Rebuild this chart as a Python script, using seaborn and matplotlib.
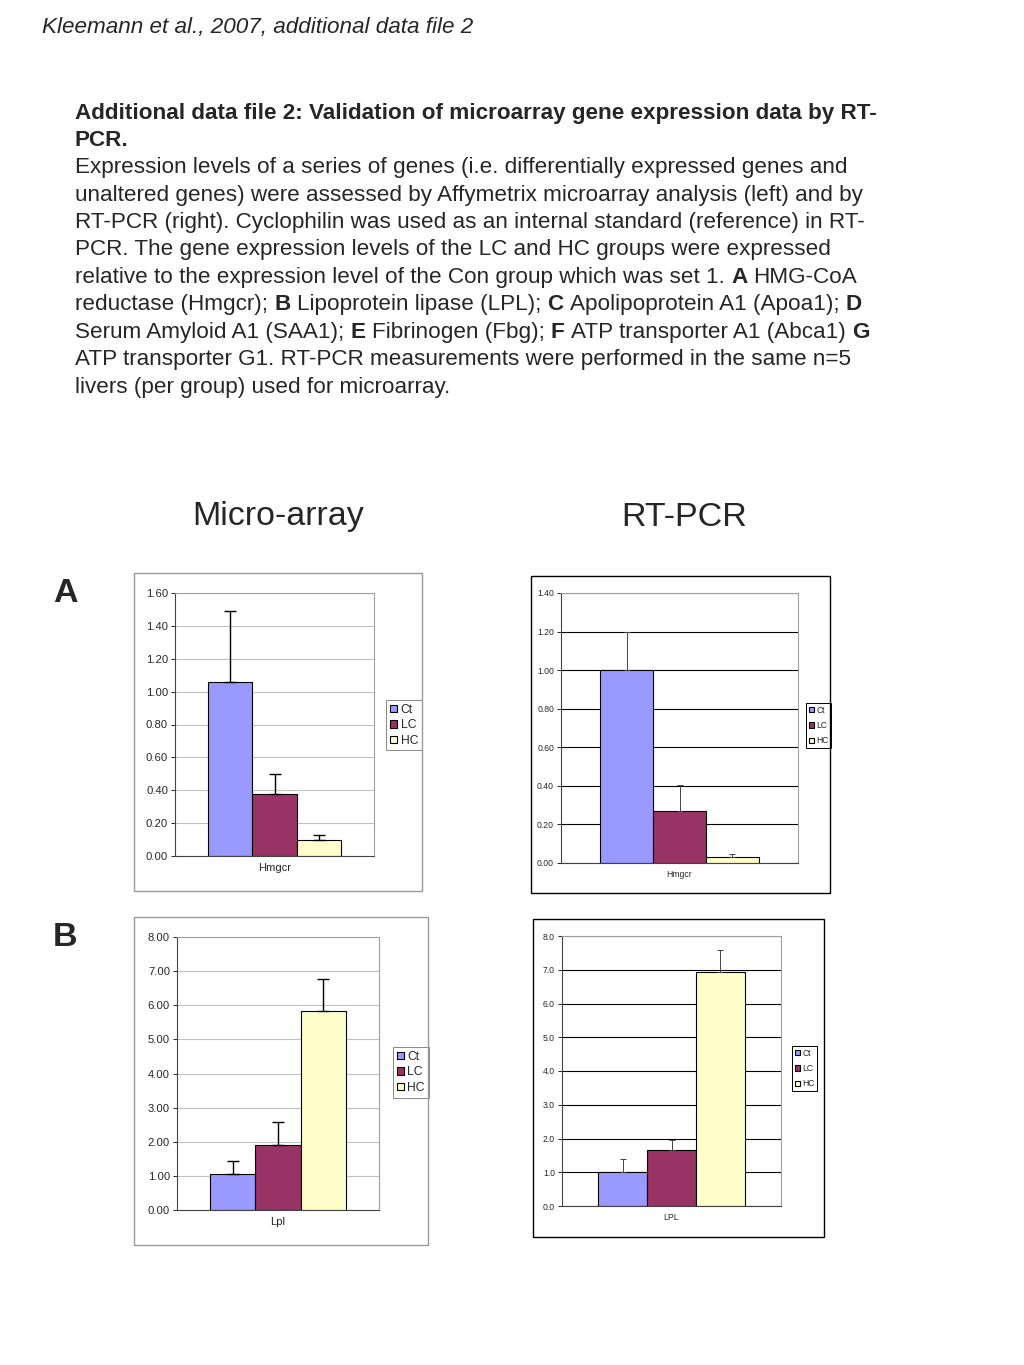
import numpy as np
import pandas as pd
import seaborn as sns
import matplotlib.pyplot as plt
from matplotlib.patches import Rectangle
from matplotlib.ticker import FormatStrFormatter

sns.set_style("white")
plt.rcParams['font.family'] = ['Liberation Sans', 'DejaVu Sans']

W, H = 1024, 1365

# data
groups = ["Ct", "LC", "HC"]
colors = ["#9999FF", "#993366", "#FFFFCC"]

# A: Hmgcr
hmgcr_array = [1.06, 0.38, 0.10]
hmgcr_array_sd = [0.43, 0.12, 0.025]
hmgcr_pcr = [1.00, 0.27, 0.033]
hmgcr_pcr_sd = [0.20, 0.135, 0.012]

# B: Lpl
lpl_array = [1.05, 1.90, 5.82]
lpl_array_sd = [0.40, 0.68, 0.95]
lpl_pcr = [1.00, 1.65, 6.93]
lpl_pcr_sd = [0.40, 0.32, 0.67]


def fig_rect(x0, y0, x1, y1):
    """pixel box (top-left origin) -> figure fraction rect"""
    return [x0 / W, 1 - y1 / H, (x1 - x0) / W, (y1 - y0) / H]


fig = plt.figure(figsize=(W / 100, H / 100), dpi=100)
renderer = fig.canvas.get_renderer()

# header + caption
fig.text(42 / W, 1 - 28 / H, "Kleemann et al., 2007, additional data file 2",
         fontsize=16.2, style='italic', va='center')

lines = [
    [("Additional data file 2: Validation of microarray gene expression data by RT-", True)],
    [("PCR.", True)],
    [("Expression levels of a series of genes (i.e. differentially expressed genes and", False)],
    [("unaltered genes) were assessed by Affymetrix microarray analysis (left) and by", False)],
    [("RT-PCR (right). Cyclophilin was used as an internal standard (reference) in RT-", False)],
    [("PCR. The gene expression levels of the LC and HC groups were expressed", False)],
    [("relative to the expression level of the Con group which was set 1.", False), ("A", True),
     ("HMG-CoA", False)],
    [("reductase (Hmgcr);", False), ("B", True), ("Lipoprotein lipase (LPL);", False), ("C", True),
     ("Apolipoprotein A1 (Apoa1);", False), ("D", True)],
    [("Serum Amyloid A1 (SAA1);", False), ("E", True), ("Fibrinogen (Fbg);", False), ("F", True),
     ("ATP transporter A1 (Abca1)", False), ("G", True)],
    [("ATP transporter G1. RT-PCR measurements were performed in the same n=5", False)],
    [("livers (per group) used for microarray.", False)],
]

cap_size = 16.2
t1 = fig.text(0, 0, "a a", fontsize=cap_size)
t2 = fig.text(0, 0, "aa", fontsize=cap_size)
space_w = t1.get_window_extent(renderer).width - t2.get_window_extent(renderer).width
t1.remove()
t2.remove()

for i, runs in enumerate(lines):
    y = 113 + i * 27.4
    x = 75
    for txt, bold in runs:
        t = fig.text(x / W, 1 - y / H, txt, fontsize=cap_size,
                     fontweight='bold' if bold else 'normal', va='center')
        x += t.get_window_extent(renderer).width + space_w

fig.text(278 / W, 1 - 517 / H, "Micro-array", fontsize=24.5, ha='center', va='center')
fig.text(684 / W, 1 - 517 / H, "RT-PCR", fontsize=24.5, ha='center', va='center')
fig.text(65 / W, 1 - 594 / H, "A", fontsize=24.5, fontweight='bold', ha='center', va='center')
fig.text(65 / W, 1 - 937 / H, "B", fontsize=24.5, fontweight='bold', ha='center', va='center')


def panel(box, plot, legend_xy, gene, vals, sds, ymax, step, fmt, small):
    fig.add_artist(Rectangle((box[0] / W, 1 - box[3] / H), (box[2] - box[0]) / W,
                             (box[3] - box[1]) / H, transform=fig.transFigure, fill=False,
                             edgecolor='black' if small else '#9a9a9a', lw=1.0))
    ax = fig.add_axes(fig_rect(*plot))
    df = pd.DataFrame({"gene": [gene] * 3, "group": groups, "value": vals})
    sns.barplot(data=df, x="gene", y="value", hue="group", hue_order=groups,
                palette=colors, saturation=1, width=0.67, edgecolor='black', linewidth=0.8,
                errorbar=None, ax=ax)
    for cont, sd in zip(ax.containers, sds):
        for bar in cont:
            xc = bar.get_x() + bar.get_width() / 2
            ax.errorbar(xc, bar.get_height(), yerr=[[0], [sd]], fmt='none',
                        ecolor='black' if not small else '#444444',
                        elinewidth=1.0 if not small else 0.7,
                        capsize=4 if not small else 2, capthick=1.0 if not small else 0.7)
    ax.set_xlim(-0.5, 0.5)
    ax.set_ylim(0, ymax)
    ax.set_yticks(np.arange(0, ymax + step / 2, step))
    ax.yaxis.set_major_formatter(FormatStrFormatter(fmt))
    ax.set_xlabel("")
    ax.set_ylabel("")
    ts = 6.2 if small else 8.1
    ax.tick_params(axis='y', labelsize=ts, length=3, width=0.7, direction='out', left=True, pad=2)
    ax.tick_params(axis='x', labelsize=ts, length=0, pad=5)
    ax.yaxis.grid(True, color='black' if small else '#c0c0c0', lw=0.8)
    ax.set_axisbelow(True)
    for side, sp in ax.spines.items():
        sp.set_linewidth(0.8)
        if side in ("left", "bottom"):
            sp.set_color('#444444')
        else:
            sp.set_color('#a0a0a0')
    handles, labels = ax.get_legend_handles_labels()
    ax.legend(handles, labels, loc='upper left',
              bbox_to_anchor=(legend_xy[0] / W, 1 - legend_xy[1] / H),
              bbox_transform=fig.transFigure, frameon=True, fancybox=False,
              edgecolor='#888888' if not small else 'black',
              fontsize=ts + 0.6 if not small else ts,
              handlelength=0.6, handleheight=0.6, handletextpad=0.3,
              borderpad=0.3, labelspacing=0.3 if not small else 0.75,
              borderaxespad=0, framealpha=1)
    ax.get_legend().get_frame().set_linewidth(0.7)
    return ax


panel((134, 573, 422, 891), (175, 593, 374, 856), (386, 700), "Hmgcr",
      hmgcr_array, hmgcr_array_sd, 1.6, 0.2, '%.2f', False)
panel((531, 576, 830, 893), (561, 593, 798, 863), (806, 703), "Hmgcr",
      hmgcr_pcr, hmgcr_pcr_sd, 1.4, 0.2, '%.2f', True)
panel((134, 917, 428, 1245), (177, 937, 379, 1210), (393, 1047), "Lpl",
      lpl_array, lpl_array_sd, 8.0, 1.0, '%.2f', False)
panel((533, 919, 824, 1237), (562, 936, 781, 1206), (792, 1046), "LPL",
      lpl_pcr, lpl_pcr_sd, 8.0, 1.0, '%.1f', True)

fig.savefig("out.png", dpi=100)
